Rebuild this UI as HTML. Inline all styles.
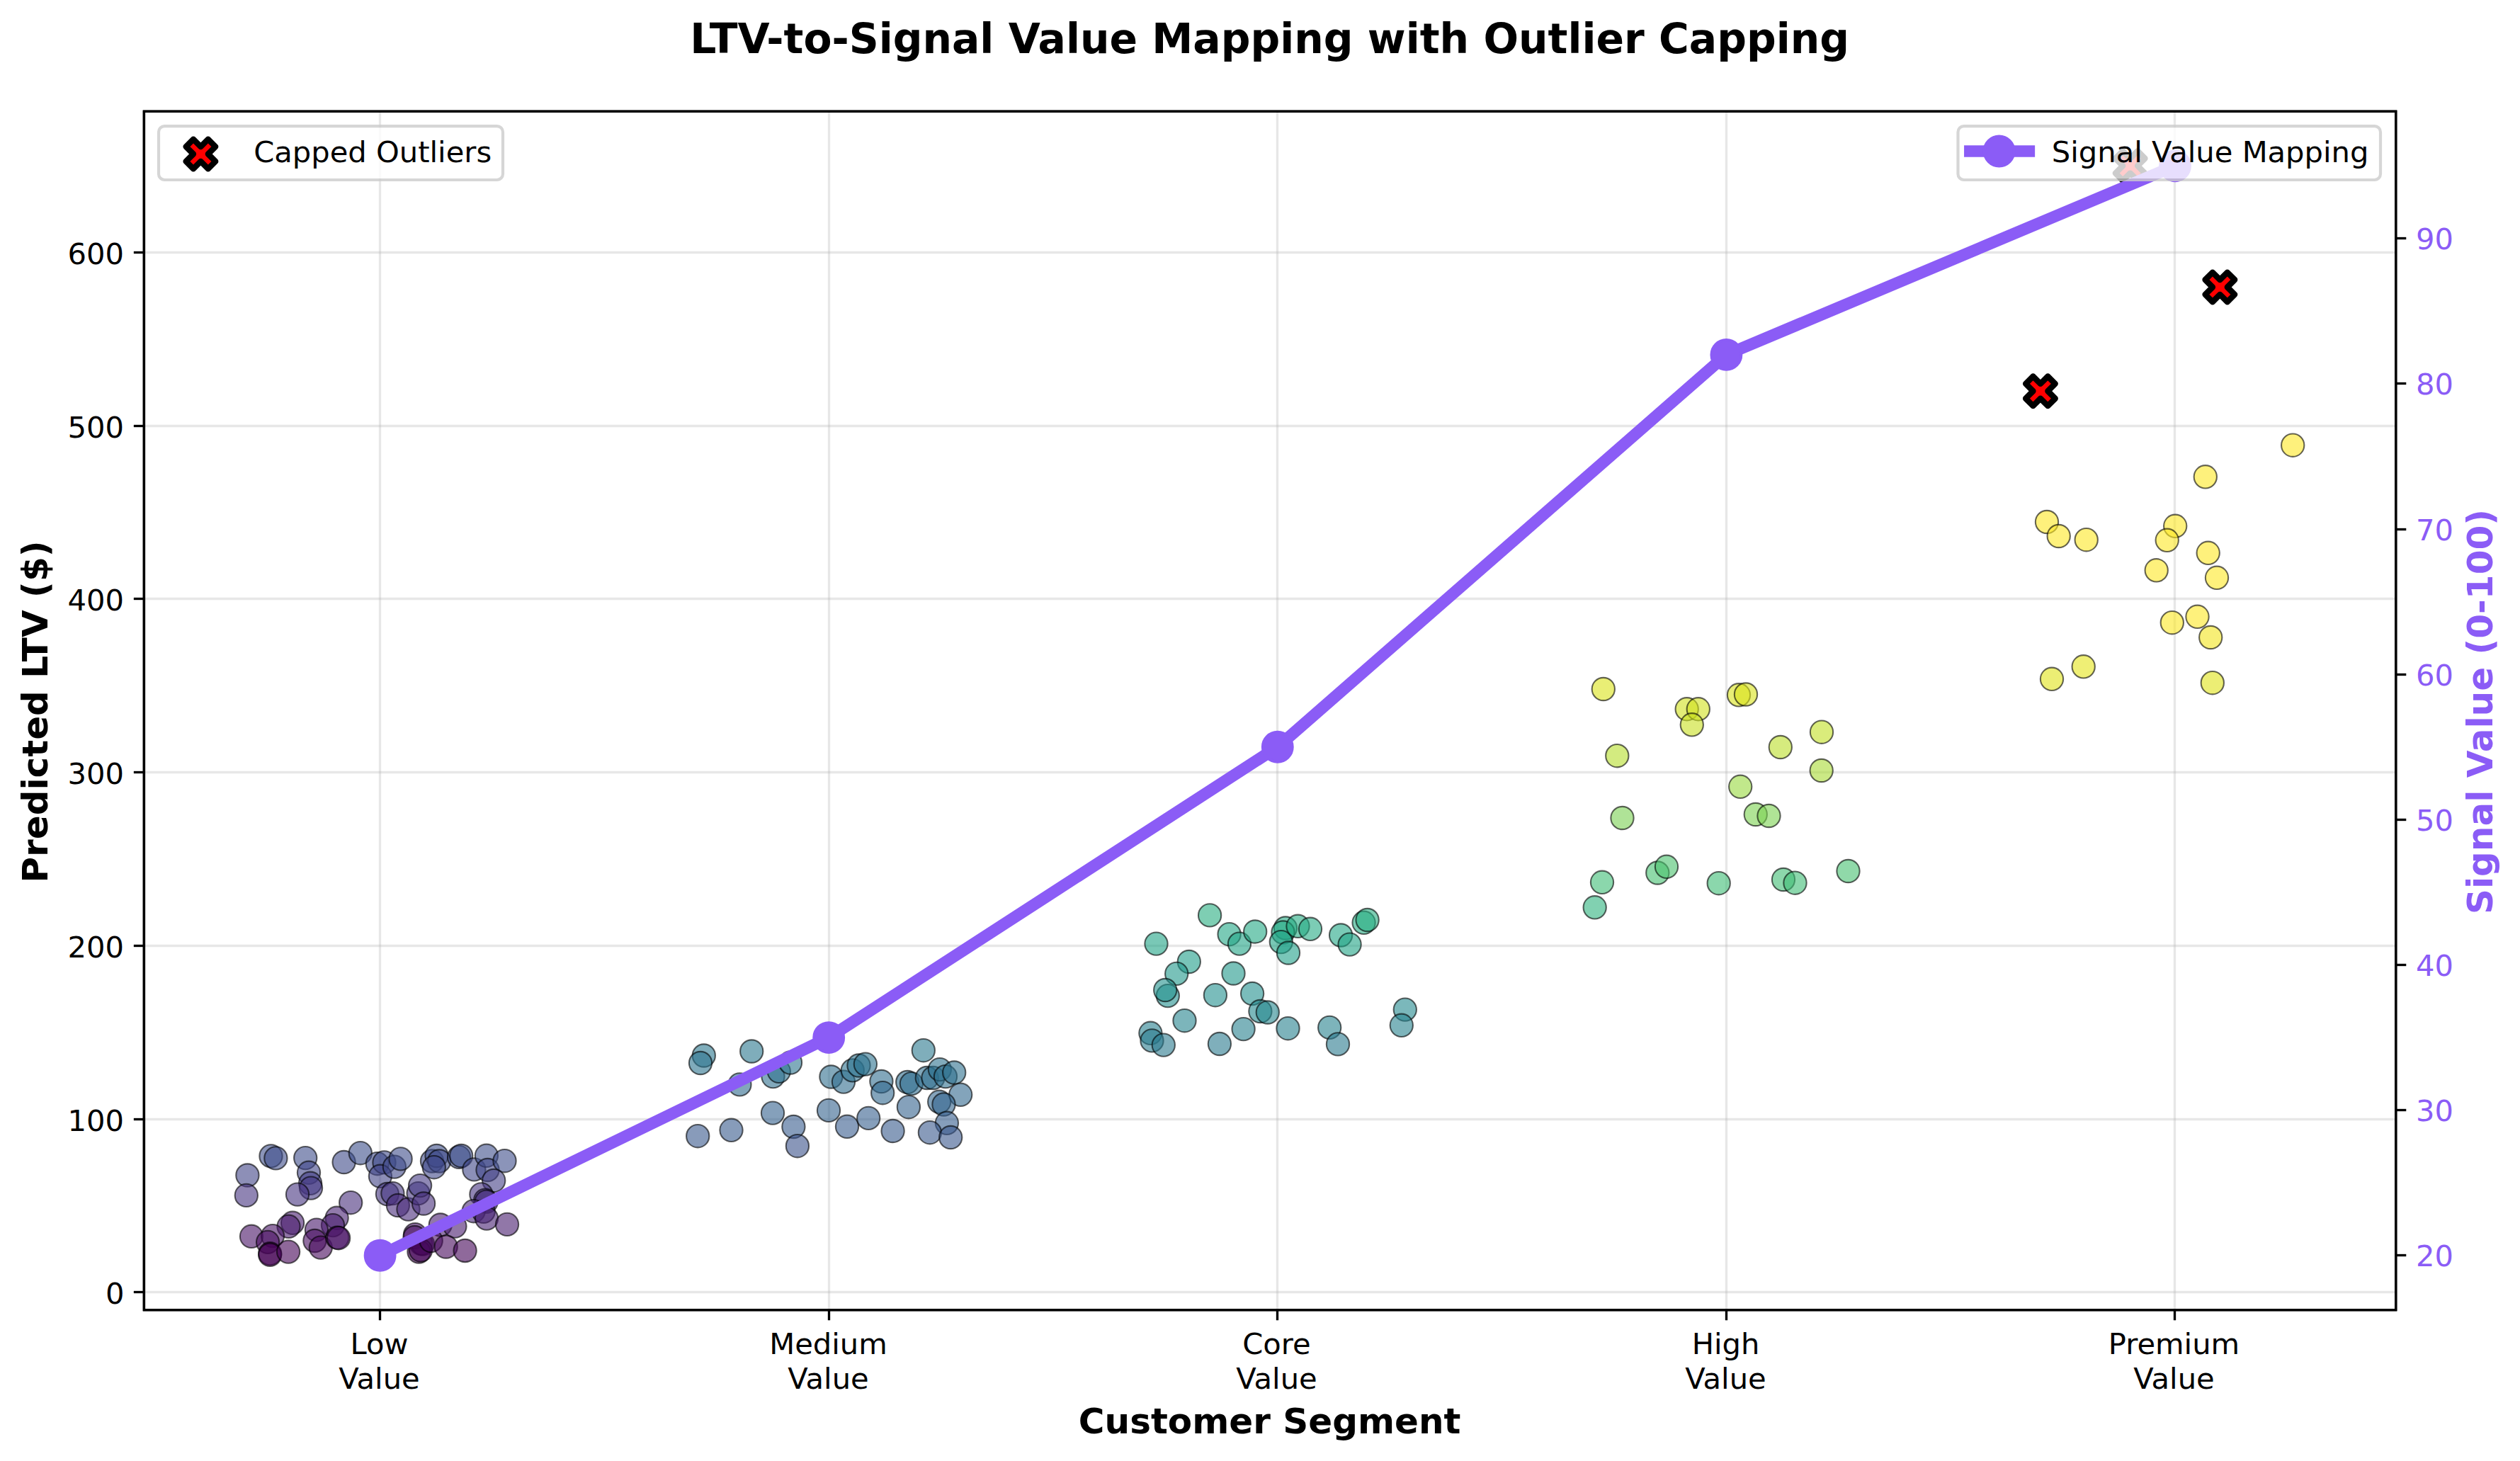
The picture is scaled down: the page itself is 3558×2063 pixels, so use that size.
<!DOCTYPE html>
<html><head><meta charset="utf-8"><title>LTV-to-Signal Value Mapping</title>
<style>html,body{margin:0;padding:0;background:#fff}svg text{white-space:pre}</style></head>
<body>
<svg width="3558" height="2063" viewBox="0 0 3558 2063" style="display:block">
<defs><clipPath id="ax"><rect x="203.4" y="157.3" width="3179.3" height="1692.4"/></clipPath></defs>
<rect width="3558" height="2063" fill="#fff"/>
<g stroke="#b0b0b0" stroke-opacity="0.3" stroke-width="3.333" fill="none">
<line x1="536.5" y1="157.3" x2="536.5" y2="1849.7"/>
<line x1="1170.5" y1="157.3" x2="1170.5" y2="1849.7"/>
<line x1="1803.5" y1="157.3" x2="1803.5" y2="1849.7"/>
<line x1="2437.5" y1="157.3" x2="2437.5" y2="1849.7"/>
<line x1="3070.5" y1="157.3" x2="3070.5" y2="1849.7"/>
<line x1="203.4" y1="1824.5" x2="3382.7" y2="1824.5"/>
<line x1="203.4" y1="1580.5" x2="3382.7" y2="1580.5"/>
<line x1="203.4" y1="1335.5" x2="3382.7" y2="1335.5"/>
<line x1="203.4" y1="1090.5" x2="3382.7" y2="1090.5"/>
<line x1="203.4" y1="845.5" x2="3382.7" y2="845.5"/>
<line x1="203.4" y1="601.5" x2="3382.7" y2="601.5"/>
<line x1="203.4" y1="356.5" x2="3382.7" y2="356.5"/>
</g>
<g clip-path="url(#ax)" stroke="#000" stroke-opacity="0.6" stroke-width="2.083" fill-opacity="0.6">
<circle cx="349.4" cy="1659.5" r="16.14" fill="#414487"/>
<circle cx="347.8" cy="1687.9" r="16.14" fill="#463480"/>
<circle cx="382.5" cy="1632.4" r="16.14" fill="#3d4e8a"/>
<circle cx="389.4" cy="1635.4" r="16.14" fill="#3d4d8a"/>
<circle cx="431.2" cy="1635.1" r="16.14" fill="#3d4d8a"/>
<circle cx="436.0" cy="1655.8" r="16.14" fill="#404588"/>
<circle cx="438.1" cy="1670.8" r="16.14" fill="#433e85"/>
<circle cx="439.0" cy="1677.6" r="16.14" fill="#443983"/>
<circle cx="420.0" cy="1686.6" r="16.14" fill="#463480"/>
<circle cx="485.6" cy="1641.0" r="16.14" fill="#3e4a89"/>
<circle cx="508.8" cy="1628.2" r="16.14" fill="#3c4f8a"/>
<circle cx="495.2" cy="1698.2" r="16.14" fill="#472e7c"/>
<circle cx="475.6" cy="1719.8" r="16.14" fill="#482173"/>
<circle cx="470.0" cy="1730.1" r="16.14" fill="#481c6e"/>
<circle cx="413.1" cy="1726.8" r="16.14" fill="#481d6f"/>
<circle cx="407.5" cy="1731.8" r="16.14" fill="#481b6d"/>
<circle cx="355.0" cy="1745.8" r="16.14" fill="#471365"/>
<circle cx="385.0" cy="1745.1" r="16.14" fill="#471365"/>
<circle cx="378.1" cy="1753.9" r="16.14" fill="#470d60"/>
<circle cx="381.2" cy="1770.1" r="16.14" fill="#440256"/>
<circle cx="381.2" cy="1771.8" r="16.14" fill="#440154"/>
<circle cx="407.1" cy="1767.6" r="16.14" fill="#450457"/>
<circle cx="446.9" cy="1736.6" r="16.14" fill="#48186a"/>
<circle cx="444.4" cy="1752.0" r="16.14" fill="#470e61"/>
<circle cx="452.8" cy="1761.6" r="16.14" fill="#46085c"/>
<circle cx="476.2" cy="1747.6" r="16.14" fill="#471164"/>
<circle cx="478.1" cy="1748.2" r="16.14" fill="#471164"/>
<circle cx="532.8" cy="1643.2" r="16.14" fill="#3e4989"/>
<circle cx="542.5" cy="1641.4" r="16.14" fill="#3e4a89"/>
<circle cx="536.9" cy="1660.8" r="16.14" fill="#414287"/>
<circle cx="556.9" cy="1647.6" r="16.14" fill="#3f4889"/>
<circle cx="565.6" cy="1636.4" r="16.14" fill="#3e4c8a"/>
<circle cx="546.9" cy="1686.0" r="16.14" fill="#453581"/>
<circle cx="554.4" cy="1685.1" r="16.14" fill="#453581"/>
<circle cx="561.9" cy="1702.0" r="16.14" fill="#472c7a"/>
<circle cx="576.5" cy="1707.6" r="16.14" fill="#482979"/>
<circle cx="590.6" cy="1685.1" r="16.14" fill="#453581"/>
<circle cx="593.1" cy="1674.1" r="16.14" fill="#443b84"/>
<circle cx="598.1" cy="1699.5" r="16.14" fill="#472e7c"/>
<circle cx="610.0" cy="1639.5" r="16.14" fill="#3e4a89"/>
<circle cx="616.5" cy="1632.0" r="16.14" fill="#3d4e8a"/>
<circle cx="620.2" cy="1639.5" r="16.14" fill="#3e4a89"/>
<circle cx="612.8" cy="1648.2" r="16.14" fill="#3f4788"/>
<circle cx="648.1" cy="1633.9" r="16.14" fill="#3d4d8a"/>
<circle cx="651.2" cy="1632.0" r="16.14" fill="#3d4e8a"/>
<circle cx="669.4" cy="1651.4" r="16.14" fill="#404688"/>
<circle cx="686.9" cy="1631.8" r="16.14" fill="#3d4e8a"/>
<circle cx="688.5" cy="1652.0" r="16.14" fill="#404688"/>
<circle cx="712.5" cy="1639.2" r="16.14" fill="#3e4c8a"/>
<circle cx="697.2" cy="1667.0" r="16.14" fill="#423f85"/>
<circle cx="679.4" cy="1686.4" r="16.14" fill="#463480"/>
<circle cx="685.2" cy="1694.6" r="16.14" fill="#46307e"/>
<circle cx="686.8" cy="1696.8" r="16.14" fill="#472f7d"/>
<circle cx="668.7" cy="1710.2" r="16.14" fill="#482878"/>
<circle cx="682.7" cy="1710.8" r="16.14" fill="#482878"/>
<circle cx="687.1" cy="1720.6" r="16.14" fill="#482173"/>
<circle cx="716.0" cy="1728.9" r="16.14" fill="#481c6e"/>
<circle cx="621.8" cy="1729.5" r="16.14" fill="#481c6e"/>
<circle cx="642.4" cy="1731.6" r="16.14" fill="#481b6d"/>
<circle cx="586.1" cy="1743.2" r="16.14" fill="#481467"/>
<circle cx="585.5" cy="1747.0" r="16.14" fill="#471164"/>
<circle cx="594.5" cy="1756.0" r="16.14" fill="#460b5e"/>
<circle cx="597.0" cy="1756.5" r="16.14" fill="#460b5e"/>
<circle cx="591.5" cy="1767.5" r="16.14" fill="#450457"/>
<circle cx="594.0" cy="1765.5" r="16.14" fill="#450559"/>
<circle cx="608.7" cy="1752.0" r="16.14" fill="#470e61"/>
<circle cx="629.7" cy="1760.5" r="16.14" fill="#46085c"/>
<circle cx="656.6" cy="1766.0" r="16.14" fill="#450559"/>
<circle cx="993.8" cy="1490.5" r="16.14" fill="#2a768e"/>
<circle cx="989.0" cy="1501.0" r="16.14" fill="#2c738e"/>
<circle cx="1061.2" cy="1484.5" r="16.14" fill="#2a778e"/>
<circle cx="1044.4" cy="1531.4" r="16.14" fill="#2f6b8e"/>
<circle cx="1091.5" cy="1520.1" r="16.14" fill="#2e6f8e"/>
<circle cx="1099.8" cy="1512.8" r="16.14" fill="#2d718e"/>
<circle cx="1116.0" cy="1500.5" r="16.14" fill="#2c738e"/>
<circle cx="1173.4" cy="1520.5" r="16.14" fill="#2e6e8e"/>
<circle cx="1191.0" cy="1527.6" r="16.14" fill="#2e6d8e"/>
<circle cx="1203.8" cy="1511.4" r="16.14" fill="#2d718e"/>
<circle cx="1212.5" cy="1504.5" r="16.14" fill="#2c728e"/>
<circle cx="1221.9" cy="1502.6" r="16.14" fill="#2c728e"/>
<circle cx="1244.4" cy="1527.0" r="16.14" fill="#2e6d8e"/>
<circle cx="1246.2" cy="1543.2" r="16.14" fill="#31688e"/>
<circle cx="1091.0" cy="1571.6" r="16.14" fill="#34618d"/>
<circle cx="1120.4" cy="1591.0" r="16.14" fill="#375b8d"/>
<circle cx="1125.9" cy="1618.2" r="16.14" fill="#3b528b"/>
<circle cx="985.2" cy="1604.2" r="16.14" fill="#38588c"/>
<circle cx="1032.5" cy="1595.8" r="16.14" fill="#375a8c"/>
<circle cx="1170.0" cy="1567.9" r="16.14" fill="#33628d"/>
<circle cx="1196.0" cy="1590.8" r="16.14" fill="#375b8d"/>
<circle cx="1226.2" cy="1578.9" r="16.14" fill="#355f8d"/>
<circle cx="1260.6" cy="1597.0" r="16.14" fill="#375a8c"/>
<circle cx="1303.8" cy="1483.2" r="16.14" fill="#2a788e"/>
<circle cx="1281.2" cy="1528.0" r="16.14" fill="#2f6c8e"/>
<circle cx="1286.9" cy="1530.1" r="16.14" fill="#2f6c8e"/>
<circle cx="1308.8" cy="1522.0" r="16.14" fill="#2e6e8e"/>
<circle cx="1317.5" cy="1522.0" r="16.14" fill="#2e6e8e"/>
<circle cx="1326.9" cy="1510.1" r="16.14" fill="#2d718e"/>
<circle cx="1335.0" cy="1520.1" r="16.14" fill="#2e6f8e"/>
<circle cx="1347.2" cy="1514.5" r="16.14" fill="#2d708e"/>
<circle cx="1356.2" cy="1545.8" r="16.14" fill="#31688e"/>
<circle cx="1326.2" cy="1555.8" r="16.14" fill="#32658e"/>
<circle cx="1332.5" cy="1559.5" r="16.14" fill="#32648e"/>
<circle cx="1282.9" cy="1563.2" r="16.14" fill="#33638d"/>
<circle cx="1336.9" cy="1585.8" r="16.14" fill="#365d8d"/>
<circle cx="1312.9" cy="1599.2" r="16.14" fill="#38598c"/>
<circle cx="1342.2" cy="1606.0" r="16.14" fill="#39568c"/>
<circle cx="1708.1" cy="1292.4" r="16.14" fill="#28ae80"/>
<circle cx="1632.5" cy="1332.6" r="16.14" fill="#20a386"/>
<circle cx="1735.6" cy="1319.2" r="16.14" fill="#22a785"/>
<circle cx="1750.0" cy="1332.6" r="16.14" fill="#20a386"/>
<circle cx="1772.2" cy="1315.5" r="16.14" fill="#22a884"/>
<circle cx="1815.0" cy="1310.5" r="16.14" fill="#24aa83"/>
<circle cx="1811.5" cy="1316.5" r="16.14" fill="#22a884"/>
<circle cx="1808.8" cy="1330.1" r="16.14" fill="#20a486"/>
<circle cx="1819.0" cy="1345.5" r="16.14" fill="#1fa088"/>
<circle cx="1832.5" cy="1307.8" r="16.14" fill="#25ab82"/>
<circle cx="1850.0" cy="1311.8" r="16.14" fill="#24aa83"/>
<circle cx="1893.1" cy="1320.5" r="16.14" fill="#22a785"/>
<circle cx="1905.6" cy="1333.6" r="16.14" fill="#20a386"/>
<circle cx="1678.8" cy="1358.0" r="16.14" fill="#1e9d89"/>
<circle cx="1661.2" cy="1374.9" r="16.14" fill="#1f978b"/>
<circle cx="1648.8" cy="1406.1" r="16.14" fill="#218f8d"/>
<circle cx="1645.2" cy="1398.0" r="16.14" fill="#21918c"/>
<circle cx="1741.5" cy="1374.5" r="16.14" fill="#1f988b"/>
<circle cx="1715.9" cy="1405.2" r="16.14" fill="#218f8d"/>
<circle cx="1768.1" cy="1403.0" r="16.14" fill="#21908d"/>
<circle cx="1779.4" cy="1428.0" r="16.14" fill="#23888e"/>
<circle cx="1789.8" cy="1429.5" r="16.14" fill="#24878e"/>
<circle cx="1672.5" cy="1441.2" r="16.14" fill="#25848e"/>
<circle cx="1624.4" cy="1458.8" r="16.14" fill="#277f8e"/>
<circle cx="1626.5" cy="1469.4" r="16.14" fill="#287c8e"/>
<circle cx="1642.8" cy="1475.6" r="16.14" fill="#297a8e"/>
<circle cx="1721.9" cy="1474.0" r="16.14" fill="#297a8e"/>
<circle cx="1755.6" cy="1453.1" r="16.14" fill="#26818e"/>
<circle cx="1818.5" cy="1452.2" r="16.14" fill="#26818e"/>
<circle cx="1877.2" cy="1450.9" r="16.14" fill="#26828e"/>
<circle cx="1889.0" cy="1474.4" r="16.14" fill="#297a8e"/>
<circle cx="1925.6" cy="1302.8" r="16.14" fill="#25ac82"/>
<circle cx="1930.6" cy="1299.0" r="16.14" fill="#26ad81"/>
<circle cx="1983.8" cy="1425.6" r="16.14" fill="#23898e"/>
<circle cx="1978.8" cy="1447.8" r="16.14" fill="#26828e"/>
<circle cx="2263.8" cy="973.0" r="16.14" fill="#dae319"/>
<circle cx="2381.7" cy="1001.3" r="16.14" fill="#d0e11c"/>
<circle cx="2397.8" cy="1001.3" r="16.14" fill="#d0e11c"/>
<circle cx="2388.8" cy="1023.3" r="16.14" fill="#c8e020"/>
<circle cx="2455.0" cy="981.3" r="16.14" fill="#d8e219"/>
<circle cx="2465.0" cy="980.5" r="16.14" fill="#d8e219"/>
<circle cx="2572.0" cy="1033.7" r="16.14" fill="#c2df23"/>
<circle cx="2513.8" cy="1055.0" r="16.14" fill="#bade28"/>
<circle cx="2283.3" cy="1067.2" r="16.14" fill="#b5de2b"/>
<circle cx="2571.7" cy="1088.0" r="16.14" fill="#a8db34"/>
<circle cx="2457.2" cy="1110.8" r="16.14" fill="#98d83e"/>
<circle cx="2478.8" cy="1150.0" r="16.14" fill="#7cd250"/>
<circle cx="2497.5" cy="1152.0" r="16.14" fill="#7cd250"/>
<circle cx="2290.5" cy="1155.0" r="16.14" fill="#7ad151"/>
<circle cx="2262.0" cy="1245.8" r="16.14" fill="#3dbc74"/>
<circle cx="2251.7" cy="1281.3" r="16.14" fill="#2db27d"/>
<circle cx="2340.3" cy="1232.5" r="16.14" fill="#44bf70"/>
<circle cx="2353.0" cy="1223.8" r="16.14" fill="#4ac16d"/>
<circle cx="2426.7" cy="1247.2" r="16.14" fill="#3dbc74"/>
<circle cx="2518.0" cy="1242.0" r="16.14" fill="#3fbc73"/>
<circle cx="2534.5" cy="1246.7" r="16.14" fill="#3dbc74"/>
<circle cx="2609.5" cy="1230.0" r="16.14" fill="#46c06f"/>
<circle cx="3237.2" cy="628.7" r="16.14" fill="#fde725"/>
<circle cx="3113.8" cy="673.3" r="16.14" fill="#fde725"/>
<circle cx="2890.0" cy="737.0" r="16.14" fill="#fde725"/>
<circle cx="2906.7" cy="757.0" r="16.14" fill="#fde725"/>
<circle cx="2945.7" cy="762.2" r="16.14" fill="#fde725"/>
<circle cx="3071.2" cy="742.8" r="16.14" fill="#fde725"/>
<circle cx="3059.7" cy="762.8" r="16.14" fill="#fde725"/>
<circle cx="3117.7" cy="780.8" r="16.14" fill="#fde725"/>
<circle cx="3044.7" cy="805.3" r="16.14" fill="#fde725"/>
<circle cx="3130.0" cy="815.8" r="16.14" fill="#fde725"/>
<circle cx="3066.8" cy="879.2" r="16.14" fill="#fbe723"/>
<circle cx="3102.5" cy="870.8" r="16.14" fill="#fde725"/>
<circle cx="3121.2" cy="900.0" r="16.14" fill="#f1e51d"/>
<circle cx="2941.7" cy="941.3" r="16.14" fill="#e5e419"/>
<circle cx="2897.0" cy="958.8" r="16.14" fill="#dfe318"/>
<circle cx="3123.8" cy="964.2" r="16.14" fill="#dfe318"/>
</g>
<g clip-path="url(#ax)">
<path d="M2870.50 573.09 L2880.92 562.68 L2891.34 573.09 L2901.75 562.68 L2891.34 552.26 L2901.75 541.84 L2891.34 531.43 L2880.92 541.84 L2870.50 531.43 L2860.09 541.84 L2870.50 552.26 L2860.09 562.68Z" fill="#ff0000" stroke="#000" stroke-width="8.333" stroke-linejoin="round"/>
<path d="M3123.94 426.27 L3134.36 415.86 L3144.78 426.27 L3155.19 415.86 L3144.78 405.44 L3155.19 395.02 L3144.78 384.61 L3134.36 395.02 L3123.94 384.61 L3113.53 395.02 L3123.94 405.44 L3113.53 415.86Z" fill="#ff0000" stroke="#000" stroke-width="8.333" stroke-linejoin="round"/>
<path d="M2997.22 254.98 L3007.64 244.57 L3018.06 254.98 L3028.47 244.57 L3018.06 234.15 L3028.47 223.73 L3018.06 213.32 L3007.64 223.73 L2997.22 213.32 L2986.81 223.73 L2997.22 234.15 L2986.81 244.57Z" fill="#ff0000" stroke="#000" stroke-width="8.333" stroke-linejoin="round"/>
</g>
<g stroke="#000" stroke-width="3.333">
<line x1="536.5" y1="1849.7" x2="536.5" y2="1864.28"/>
<line x1="1170.5" y1="1849.7" x2="1170.5" y2="1864.28"/>
<line x1="1803.5" y1="1849.7" x2="1803.5" y2="1864.28"/>
<line x1="2437.5" y1="1849.7" x2="2437.5" y2="1864.28"/>
<line x1="3070.5" y1="1849.7" x2="3070.5" y2="1864.28"/>
<line x1="203.4" y1="1824.5" x2="188.82" y2="1824.5"/>
<line x1="203.4" y1="1580.5" x2="188.82" y2="1580.5"/>
<line x1="203.4" y1="1335.5" x2="188.82" y2="1335.5"/>
<line x1="203.4" y1="1090.5" x2="188.82" y2="1090.5"/>
<line x1="203.4" y1="845.5" x2="188.82" y2="845.5"/>
<line x1="203.4" y1="601.5" x2="188.82" y2="601.5"/>
<line x1="203.4" y1="356.5" x2="188.82" y2="356.5"/>
</g>
<g font-family="'DejaVu Sans', 'Liberation Sans', sans-serif">
<text x="535.50" y="1911.60" font-size="41.667" text-anchor="middle" font-weight="normal" fill="#000">Low</text>
<text x="535.50" y="1960.90" font-size="41.667" text-anchor="middle" font-weight="normal" fill="#000">Value</text>
<text x="1169.50" y="1911.60" font-size="41.667" text-anchor="middle" font-weight="normal" fill="#000">Medium</text>
<text x="1169.50" y="1960.90" font-size="41.667" text-anchor="middle" font-weight="normal" fill="#000">Value</text>
<text x="1802.50" y="1911.60" font-size="41.667" text-anchor="middle" font-weight="normal" fill="#000">Core</text>
<text x="1802.50" y="1960.90" font-size="41.667" text-anchor="middle" font-weight="normal" fill="#000">Value</text>
<text x="2436.50" y="1911.60" font-size="41.667" text-anchor="middle" font-weight="normal" fill="#000">High</text>
<text x="2436.50" y="1960.90" font-size="41.667" text-anchor="middle" font-weight="normal" fill="#000">Value</text>
<text x="3069.50" y="1911.60" font-size="41.667" text-anchor="middle" font-weight="normal" fill="#000">Premium</text>
<text x="3069.50" y="1960.90" font-size="41.667" text-anchor="middle" font-weight="normal" fill="#000">Value</text>
<text x="1792.65" y="2023.60" font-size="50.000" text-anchor="middle" font-weight="bold" fill="#000">Customer Segment</text>
<text x="175.60" y="1840.50" font-size="41.667" text-anchor="end" font-weight="normal" fill="#000">0</text>
<text x="175.00" y="1596.50" font-size="41.667" text-anchor="end" font-weight="normal" fill="#000">100</text>
<text x="175.00" y="1351.50" font-size="41.667" text-anchor="end" font-weight="normal" fill="#000">200</text>
<text x="175.00" y="1106.50" font-size="41.667" text-anchor="end" font-weight="normal" fill="#000">300</text>
<text x="175.00" y="861.50" font-size="41.667" text-anchor="end" font-weight="normal" fill="#000">400</text>
<text x="175.00" y="617.50" font-size="41.667" text-anchor="end" font-weight="normal" fill="#000">500</text>
<text x="175.00" y="372.50" font-size="41.667" text-anchor="end" font-weight="normal" fill="#000">600</text>
<text x="67.24" y="1005.00" font-size="50.000" text-anchor="middle" font-weight="bold" fill="#000" transform="rotate(-90 67.24 1005.00)">Predicted LTV ($)</text>
<text x="1792.55" y="74.90" font-size="58.333" text-anchor="middle" font-weight="bold" fill="#000">LTV-to-Signal Value Mapping with Outlier Capping</text>
</g>
<rect x="203.4" y="157.3" width="3179.3" height="1692.4" fill="none" stroke="#000" stroke-width="3.333" stroke-linejoin="miter"/>
<rect x="224.00" y="178.10" width="486.00" height="75.90" rx="8.33" ry="8.33" fill="#fff" stroke="#ccc" stroke-width="4.167" opacity="0.8"/>
<path d="M272.98 238.33 L283.40 227.92 L293.82 238.33 L304.23 227.92 L293.82 217.50 L304.23 207.08 L293.82 196.67 L283.40 207.08 L272.98 196.67 L262.57 207.08 L272.98 217.50 L262.57 227.92Z" fill="#ff0000" stroke="#000" stroke-width="8.333" stroke-linejoin="round"/>
<g font-family="'DejaVu Sans', 'Liberation Sans', sans-serif">
<text x="358.20" y="229.00" font-size="41.667" text-anchor="start" font-weight="normal" fill="#000">Capped Outliers</text>
</g>
<g clip-path="url(#ax)"><polyline points="536.60,1772.77 1170.20,1465.06 1803.80,1054.78 2437.40,500.91 3071.00,234.23" fill="none" stroke="#8b5cf6" stroke-width="16.667" stroke-linejoin="round" stroke-linecap="square"/>
<circle cx="536.60" cy="1772.77" r="20.83" fill="#8b5cf6" stroke="#8b5cf6" stroke-width="4.167"/>
<circle cx="1170.20" cy="1465.06" r="20.83" fill="#8b5cf6" stroke="#8b5cf6" stroke-width="4.167"/>
<circle cx="1803.80" cy="1054.78" r="20.83" fill="#8b5cf6" stroke="#8b5cf6" stroke-width="4.167"/>
<circle cx="2437.40" cy="500.91" r="20.83" fill="#8b5cf6" stroke="#8b5cf6" stroke-width="4.167"/>
<circle cx="3071.00" cy="234.23" r="20.83" fill="#8b5cf6" stroke="#8b5cf6" stroke-width="4.167"/>
</g>
<g stroke="#000" stroke-width="3.333">
<line x1="3382.7" y1="1772.5" x2="3397.28" y2="1772.5"/>
<line x1="3382.7" y1="1567.5" x2="3397.28" y2="1567.5"/>
<line x1="3382.7" y1="1362.5" x2="3397.28" y2="1362.5"/>
<line x1="3382.7" y1="1157.5" x2="3397.28" y2="1157.5"/>
<line x1="3382.7" y1="952.5" x2="3397.28" y2="952.5"/>
<line x1="3382.7" y1="747.5" x2="3397.28" y2="747.5"/>
<line x1="3382.7" y1="541.5" x2="3397.28" y2="541.5"/>
<line x1="3382.7" y1="336.5" x2="3397.28" y2="336.5"/>
</g>
<g font-family="'DejaVu Sans', 'Liberation Sans', sans-serif">
<text x="3410.90" y="1788.10" font-size="41.667" text-anchor="start" font-weight="normal" fill="#8b5cf6">20</text>
<text x="3410.90" y="1583.10" font-size="41.667" text-anchor="start" font-weight="normal" fill="#8b5cf6">30</text>
<text x="3410.90" y="1378.10" font-size="41.667" text-anchor="start" font-weight="normal" fill="#8b5cf6">40</text>
<text x="3410.90" y="1173.10" font-size="41.667" text-anchor="start" font-weight="normal" fill="#8b5cf6">50</text>
<text x="3410.90" y="968.10" font-size="41.667" text-anchor="start" font-weight="normal" fill="#8b5cf6">60</text>
<text x="3410.90" y="763.10" font-size="41.667" text-anchor="start" font-weight="normal" fill="#8b5cf6">70</text>
<text x="3410.90" y="557.10" font-size="41.667" text-anchor="start" font-weight="normal" fill="#8b5cf6">80</text>
<text x="3410.90" y="352.10" font-size="41.667" text-anchor="start" font-weight="normal" fill="#8b5cf6">90</text>
<text x="3518.65" y="1005.00" font-size="50.000" text-anchor="middle" font-weight="bold" fill="#8b5cf6" transform="rotate(-90 3518.65 1005.00)">Signal Value (0-100)</text>
</g>
<rect x="203.4" y="157.3" width="3179.3" height="1692.4" fill="none" stroke="#000" stroke-width="3.333" stroke-linejoin="miter"/>
<rect x="2764.50" y="178.10" width="596.50" height="75.90" rx="8.33" ry="8.33" fill="#fff" stroke="#ccc" stroke-width="4.167" opacity="0.8"/>
<line x1="2781.4" y1="213.5" x2="2864.8" y2="213.5" stroke="#8b5cf6" stroke-width="16.667" stroke-linecap="square"/>
<circle cx="2822.6" cy="213.5" r="20.83" fill="#8b5cf6" stroke="#8b5cf6" stroke-width="4.167"/>
<g font-family="'DejaVu Sans', 'Liberation Sans', sans-serif">
<text x="2896.80" y="229.00" font-size="41.667" text-anchor="start" font-weight="normal" fill="#000">Signal Value Mapping</text>
</g>
</svg>
</body></html>
